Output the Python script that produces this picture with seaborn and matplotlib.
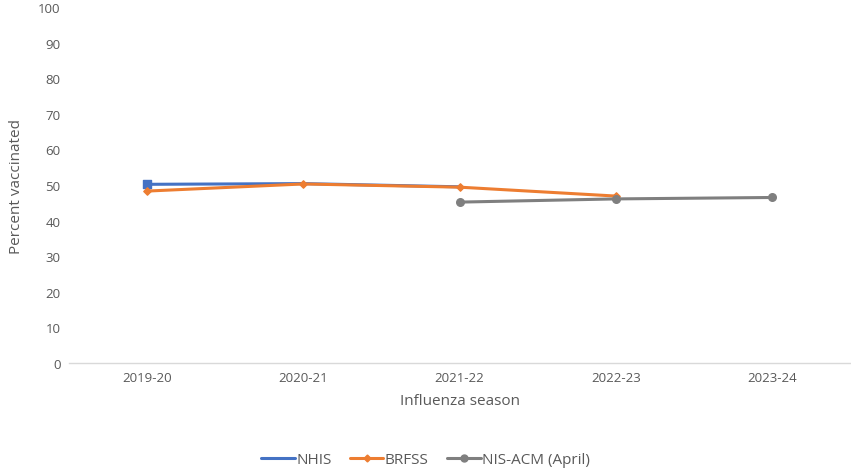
import numpy as np
import pandas as pd
import seaborn as sns
import matplotlib.pyplot as plt
from matplotlib.lines import Line2D

# influenza seasons and percent vaccinated by survey
seasons = ['2019-20', '2020-21', '2021-22', '2022-23', '2023-24']
nhis = [50.2, 50.4, 49.5, np.nan, np.nan]
brfss = [48.3, 50.3, 49.4, 46.9, np.nan]
nis_acm = [np.nan, np.nan, 45.2, 46.1, 46.5]

series_names = ['NHIS', 'BRFSS', 'NIS-ACM (April)']
colors = ['#4472C4', '#ED7D31', '#7F7F7F']

df = pd.DataFrame({'season': seasons * 3,
                   'value': nhis + brfss + nis_acm,
                   'series': [s for s in series_names for _ in seasons]})
df['x'] = df['season'].map({s: i for i, s in enumerate(seasons)})

sns.set_style('white')
plt.rcParams['font.family'] = ['Open Sans', 'DejaVu Sans']

fig = plt.figure(figsize=(8.51, 4.77), dpi=100)
ax = fig.add_axes([0.081, 0.237, 0.918, 0.746])

sns.lineplot(data=df.dropna(), x='x', y='value', hue='series', hue_order=series_names,
             palette=colors, linewidth=2.2, legend=False, ax=ax)

# markers
brf = df[(df.series == 'BRFSS')].dropna()
ax.scatter(brf['x'], brf['value'], marker='D', s=14, color=colors[1], zorder=4)
nis = df[(df.series == 'NIS-ACM (April)')].dropna()
ax.scatter(nis['x'], nis['value'], marker='o', s=30, color=colors[2], zorder=4)
nh = df[(df.series == 'NHIS')].dropna().iloc[:1]
ax.scatter(nh['x'], nh['value'], marker='s', s=40, color=colors[0], zorder=3)

ax.set_xlim(-0.5, len(seasons) - 0.5)
ax.set_ylim(0, 100)
ax.set_yticks(range(0, 101, 10))
ax.set_xticks(range(len(seasons)))
ax.set_xticklabels(seasons)
ax.tick_params(axis='both', labelsize=9.5, colors='#595959', length=0, pad=6)

for side in ['top', 'right', 'left']:
    ax.spines[side].set_visible(False)
ax.spines['bottom'].set_color('#D9D9D9')
ax.spines['bottom'].set_linewidth(1)

ax.set_xlabel('Influenza season', fontsize=11, color='#595959', labelpad=6)
ax.set_ylabel('Percent vaccinated', fontsize=11, color='#595959', labelpad=10)

handles = [Line2D([], [], color=colors[0], lw=2.2),
           Line2D([], [], color=colors[1], lw=2.2, marker='D', markersize=3.5),
           Line2D([], [], color=colors[2], lw=2.2, marker='o', markersize=5)]
fig.legend(handles, series_names, loc='center', bbox_to_anchor=(0.5, 0.034), ncol=3,
           frameon=False, fontsize=11, labelcolor='#595959', handlelength=2.2,
           handletextpad=0.1, columnspacing=1.2)

fig.savefig('out.png', dpi=100)
